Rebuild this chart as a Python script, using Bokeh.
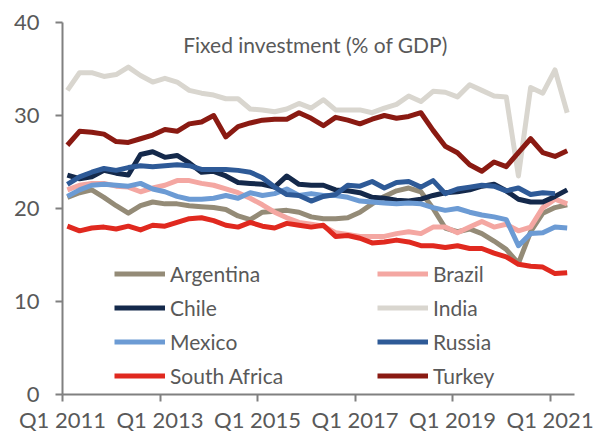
from bokeh.plotting import figure
from bokeh.models import ColumnDataSource, FixedTicker, Legend, LegendItem, Label, Range1d
from bokeh.embed import file_html
from bokeh.resources import INLINE
import numpy as np

# Quarterly data, Q1 2011 .. Q2 2021 (42 quarters)
tick_positions = [0, 8, 16, 24, 32, 40]
tick_labels = ["Q1 2011", "Q1 2013", "Q1 2015", "Q1 2017", "Q1 2019", "Q1 2021"]

argentina = [21.2, 21.7, 22.0, 21.2, 20.3, 19.5, 20.3, 20.7, 20.5, 20.5, 20.3, 20.2, 20.1, 19.9,
             19.2, 18.8, 19.6, 19.7, 19.8, 19.6, 19.1, 18.9, 18.9, 19.0, 19.6, 20.5, 21.3, 21.9,
             22.2, 21.8, 20.0, 17.9, 17.5, 17.8, 17.3, 16.5, 15.6, 14.1, 17.5, 19.5, 20.1, 20.4]
brazil = [22.0, 22.5, 22.7, 22.7, 22.4, 22.3, 21.8, 22.2, 22.5, 23.0, 23.0, 22.7, 22.5, 22.1,
          21.7, 21.1, 20.4, 19.6, 19.0, 18.5, 18.3, 18.1, 17.4, 17.2, 17.0, 17.0, 17.0, 17.3,
          17.5, 17.3, 18.0, 18.0, 17.4, 18.0, 18.6, 18.0, 18.3, 17.6, 18.0, 20.1, 21.0, 20.5]
chile = [23.6, 23.2, 23.4, 24.1, 23.8, 23.6, 25.8, 26.1, 25.5, 25.7, 24.9, 23.9, 24.0, 23.5,
         22.8, 22.7, 22.6, 22.3, 23.5, 22.6, 22.5, 22.5, 22.0, 21.9, 21.7, 21.2, 21.1, 20.9,
         20.8, 21.0, 21.4, 21.7, 21.8, 22.0, 22.4, 22.6, 21.9, 21.0, 20.7, 20.7, 21.3, 22.0]
india = [32.7, 34.6, 34.6, 34.2, 34.4, 35.2, 34.3, 33.6, 34.0, 33.6, 32.7, 32.4, 32.2, 31.8,
         31.8, 30.7, 30.6, 30.4, 30.7, 31.3, 30.8, 31.7, 30.6, 30.6, 30.6, 30.3, 30.8, 31.2,
         32.1, 31.5, 32.6, 32.5, 32.0, 33.3, 32.7, 32.1, 32.0, 23.5, 33.0, 32.4, 34.9, 30.3]
mexico = [21.3, 22.0, 22.5, 22.6, 22.5, 22.4, 22.7, 22.1, 21.8, 21.3, 21.0, 21.0, 21.1, 21.4,
          21.1, 21.7, 21.4, 21.6, 22.1, 21.4, 21.6, 21.4, 21.4, 21.2, 20.8, 20.7, 20.6, 20.5,
          20.6, 20.5, 20.1, 19.8, 20.0, 19.6, 19.3, 19.1, 18.8, 16.0, 17.3, 17.4, 18.0, 17.9]
russia = [22.6, 23.4, 23.9, 24.3, 24.1, 24.4, 24.6, 24.5, 24.6, 24.7, 24.6, 24.2, 24.2, 24.2,
          24.1, 23.9, 23.3, 22.3, 21.5, 21.4, 20.8, 21.3, 21.5, 22.5, 22.4, 22.9, 22.2, 22.8,
          22.9, 22.3, 23.0, 21.6, 22.1, 22.3, 22.5, 22.4, 21.9, 22.2, 21.5, 21.7, 21.6, float("nan")]
south_africa = [18.1, 17.6, 17.9, 18.0, 17.8, 18.1, 17.7, 18.2, 18.1, 18.5, 18.9, 19.0, 18.7, 18.2,
                18.0, 18.5, 18.1, 17.9, 18.4, 18.2, 18.0, 18.2, 17.0, 17.1, 16.8, 16.3, 16.4, 16.6,
                16.4, 16.0, 16.0, 15.8, 16.0, 15.7, 15.7, 15.2, 14.8, 14.0, 13.8, 13.7, 13.0, 13.1]
turkey = [26.8, 28.3, 28.2, 28.0, 27.2, 27.1, 27.5, 27.9, 28.5, 28.3, 29.1, 29.3, 30.0, 27.7,
          28.8, 29.2, 29.5, 29.6, 29.6, 30.3, 29.7, 28.9, 29.8, 29.5, 29.1, 29.6, 30.0, 29.7,
          29.9, 30.3, 28.4, 26.7, 26.0, 24.7, 24.0, 25.0, 24.5, 26.0, 27.5, 26.0, 25.6, 26.2]

names = ["Argentina", "Brazil", "Chile", "India", "Mexico", "Russia", "South Africa", "Turkey"]
series = [argentina, brazil, chile, india, mexico, russia, south_africa, turkey]
colors = ["#948b77", "#f4a7a2", "#14294b", "#d9d6cf", "#6c9bd4", "#2e5a97", "#e0291f", "#8a1a12"]

x = np.arange(len(argentina)) + 0.4
src = ColumnDataSource(dict(x=x, **{n: s for n, s in zip(names, series)}))

FONT = "Lato"
GREY = "#595959"

p = figure(width=606, height=435, output_backend="svg", toolbar_location=None,
           x_range=Range1d(0, 42), y_range=Range1d(0, 40),
           min_border_left=62, min_border_right=32, min_border_top=22, min_border_bottom=38)
p.outline_line_color = None
p.grid.visible = False
p.background_fill_color = "white"

renderers = {}
for n, c in zip(names, colors):
    renderers[n] = p.line("x", n, source=src, line_color=c, line_width=5, line_join="round")

for ax in (p.xaxis[0], p.yaxis[0]):
    ax.axis_line_color = "#808080"
    ax.axis_line_width = 2
    ax.major_tick_line_color = "#808080"
    ax.major_tick_line_width = 2
    ax.major_tick_out = 7
    ax.major_tick_in = 0
    ax.minor_tick_line_color = None
    ax.major_label_text_color = GREY
    ax.major_label_text_font = FONT
    ax.major_label_text_font_size = "22px"

p.xaxis.ticker = FixedTicker(ticks=tick_positions)
p.xaxis.major_label_overrides = {t: l for t, l in zip(tick_positions, tick_labels)}
p.xaxis.major_label_standoff = 4
p.yaxis.ticker = FixedTicker(ticks=[0, 10, 20, 30, 40])
p.yaxis.major_label_standoff = 16

title = Label(x=20.75, y=37.65, text="Fixed investment (% of GDP)", text_align="center",
              text_baseline="middle", text_font=FONT, text_font_size="21px", text_color=GREY)
p.add_layout(title)

def make_legend(items, loc):
    lg = Legend(items=[LegendItem(label=n, renderers=[renderers[n]]) for n in items],
                location=loc, orientation="vertical", padding=0, margin=0,
                border_line_color=None, background_fill_alpha=0,
                glyph_width=51, glyph_height=25, label_height=25, spacing=9,
                label_standoff=5, label_text_font=FONT, label_text_font_size="21px",
                label_text_color=GREY)
    return lg

p.add_layout(make_legend(["Argentina", "Chile", "Mexico", "South Africa"], (52, 6)))
p.add_layout(make_legend(["Brazil", "India", "Russia", "Turkey"], (315, 6)))

open("out.html", "w").write(file_html(p, INLINE))
